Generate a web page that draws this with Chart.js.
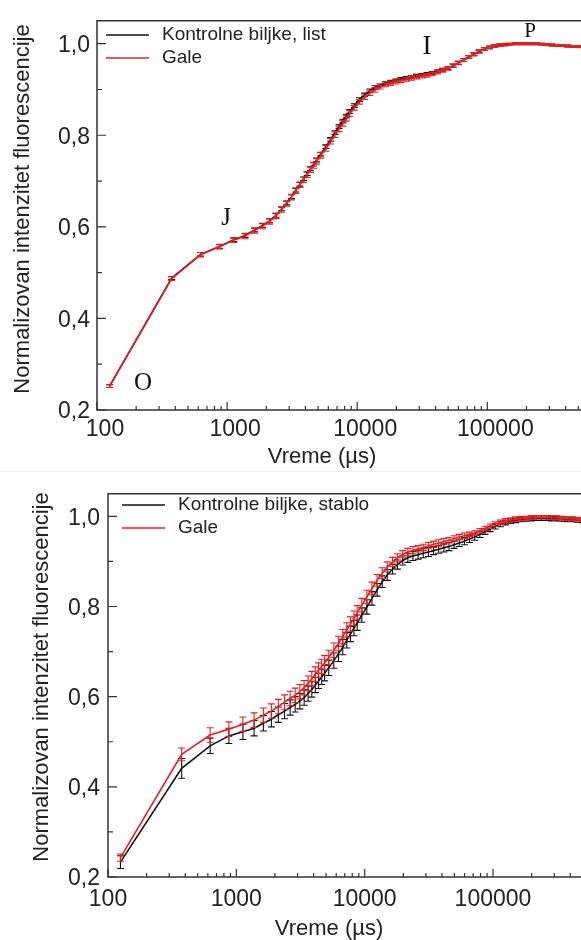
<!DOCTYPE html>
<html>
<head>
<meta charset="utf-8">
<script src="https://cdn.jsdelivr.net/npm/chart.js@4.4.1/dist/chart.umd.min.js"></script>
<style>
    html, body { margin: 0; padding: 0; background: #fff; overflow: hidden; }
    #topChart { position: absolute; left: 0; top: 0; }
    #bottomChart { position: absolute; left: 0; top: 472px; }
    .sep { position: absolute; left: 0; top: 471px; width: 581px; height: 1px; background: #eee; }
</style>
</head>
<body>
<canvas id="topChart" width="581" height="470"></canvas>
<div class="sep"></div>
<canvas id="bottomChart" width="581" height="468"></canvas>
<script>
// vreme (µs)
const times = [
    125, 375, 625, 875, 1125, 1375, 1625, 1875, 2125, 2375,
    2625, 2875, 3125, 3375, 3625, 3875, 4125, 4375, 4625, 4875,
    5250, 5750, 6250, 6750, 7250, 7750, 8250, 8750, 9500, 10400,
    11400, 12500, 13700, 15000, 16500, 18000, 19800, 21700, 23800, 26100,
    28600, 31400, 34400, 37700, 41400, 45400, 49800, 54600, 59900, 65700,
    72000, 79000, 86600, 95000, 104000, 114000, 125000, 137000, 150000, 165000,
    181000, 198000, 217000, 238000, 261000, 286000, 314000, 344000, 377000, 414000,
    454000, 498000, 546000
];

// gornji grafik - list
const listControl = [
    0.252, 0.488, 0.540, 0.557, 0.572, 0.581, 0.593, 0.603, 0.613, 0.625,
    0.639, 0.652, 0.666, 0.680, 0.693, 0.705, 0.716, 0.727, 0.737, 0.746,
    0.759, 0.775, 0.791, 0.806, 0.819, 0.831, 0.842, 0.852, 0.865, 0.878,
    0.888, 0.897, 0.904, 0.909, 0.914, 0.917, 0.920, 0.923, 0.925, 0.927,
    0.930, 0.932, 0.934, 0.936, 0.940, 0.943, 0.947, 0.952, 0.958, 0.964,
    0.971, 0.977, 0.983, 0.988, 0.992, 0.995, 0.997, 0.998, 0.999, 1.000,
    1.000, 1.000, 1.000, 1.000, 0.999, 0.998, 0.997, 0.996, 0.996, 0.995,
    0.994, 0.994, 0.993
];
const listGale = [
    0.252, 0.487, 0.539, 0.557, 0.571, 0.580, 0.592, 0.602, 0.612, 0.624,
    0.638, 0.651, 0.665, 0.679, 0.692, 0.703, 0.714, 0.725, 0.734, 0.743,
    0.756, 0.771, 0.787, 0.801, 0.814, 0.826, 0.837, 0.847, 0.860, 0.873,
    0.883, 0.892, 0.899, 0.905, 0.910, 0.913, 0.916, 0.919, 0.922, 0.924,
    0.927, 0.929, 0.931, 0.934, 0.938, 0.942, 0.946, 0.952, 0.958, 0.964,
    0.971, 0.977, 0.983, 0.988, 0.992, 0.995, 0.997, 0.998, 0.999, 1.000,
    1.000, 1.000, 1.000, 1.000, 0.999, 0.998, 0.997, 0.996, 0.996, 0.995,
    0.994, 0.994, 0.993
];
const listControlErr = [
    0.003, 0.003, 0.004, 0.004, 0.004, 0.004, 0.004, 0.004, 0.004, 0.004,
    0.004, 0.004, 0.004, 0.004, 0.004, 0.004, 0.004, 0.004, 0.004, 0.004,
    0.004, 0.004, 0.004, 0.004, 0.004, 0.004, 0.004, 0.004, 0.004, 0.004,
    0.004, 0.004, 0.004, 0.003, 0.003, 0.003, 0.003, 0.003, 0.003, 0.003,
    0.003, 0.003, 0.003, 0.003, 0.003, 0.003, 0.003, 0.003, 0.003, 0.003,
    0.003, 0.003, 0.003, 0.003, 0.003, 0.003, 0.002, 0.002, 0.002, 0.002,
    0.002, 0.002, 0.002, 0.002, 0.002, 0.002, 0.002, 0.002, 0.002, 0.002,
    0.002, 0.002, 0.002
];
const listGaleErr = [
    0.003, 0.004, 0.005, 0.005, 0.005, 0.006, 0.006, 0.006, 0.006, 0.006,
    0.006, 0.006, 0.006, 0.006, 0.006, 0.006, 0.006, 0.006, 0.006, 0.006,
    0.006, 0.006, 0.006, 0.006, 0.006, 0.006, 0.006, 0.006, 0.005, 0.005,
    0.005, 0.005, 0.005, 0.004, 0.004, 0.004, 0.004, 0.004, 0.004, 0.004,
    0.004, 0.004, 0.004, 0.004, 0.004, 0.004, 0.004, 0.004, 0.004, 0.003,
    0.003, 0.003, 0.003, 0.003, 0.003, 0.003, 0.003, 0.003, 0.002, 0.002,
    0.002, 0.002, 0.002, 0.002, 0.002, 0.002, 0.002, 0.002, 0.002, 0.002,
    0.002, 0.002, 0.002
];

// donji grafik - stablo
const stabloControl = [
    0.233, 0.441, 0.491, 0.513, 0.522, 0.530, 0.541, 0.550, 0.560, 0.568,
    0.576, 0.583, 0.590, 0.598, 0.607, 0.616, 0.626, 0.635, 0.644, 0.652,
    0.664, 0.680, 0.695, 0.710, 0.725, 0.739, 0.752, 0.764, 0.781, 0.799,
    0.818, 0.837, 0.855, 0.870, 0.883, 0.893, 0.902, 0.908, 0.912, 0.915,
    0.918, 0.921, 0.924, 0.927, 0.930, 0.933, 0.937, 0.941, 0.945, 0.950,
    0.954, 0.960, 0.966, 0.972, 0.978, 0.983, 0.986, 0.989, 0.991, 0.993,
    0.994, 0.995, 0.996, 0.996, 0.996, 0.995, 0.995, 0.994, 0.993, 0.993,
    0.992, 0.991, 0.990
];
const stabloGale = [
    0.243, 0.472, 0.515, 0.528, 0.539, 0.548, 0.559, 0.568, 0.578, 0.588,
    0.596, 0.603, 0.611, 0.620, 0.630, 0.640, 0.650, 0.659, 0.667, 0.675,
    0.687, 0.703, 0.718, 0.733, 0.748, 0.761, 0.774, 0.786, 0.803, 0.821,
    0.840, 0.858, 0.874, 0.888, 0.899, 0.908, 0.916, 0.921, 0.925, 0.928,
    0.931, 0.935, 0.938, 0.941, 0.944, 0.947, 0.951, 0.954, 0.957, 0.960,
    0.963, 0.968, 0.973, 0.978, 0.983, 0.987, 0.990, 0.992, 0.994, 0.995,
    0.996, 0.997, 0.998, 0.998, 0.998, 0.997, 0.997, 0.996, 0.995, 0.995,
    0.994, 0.993, 0.992
];
const stabloControlErr = [
    0.014, 0.022, 0.017, 0.017, 0.017, 0.017, 0.017, 0.017, 0.017, 0.017,
    0.017, 0.017, 0.017, 0.017, 0.017, 0.017, 0.017, 0.017, 0.017, 0.017,
    0.017, 0.017, 0.017, 0.017, 0.017, 0.017, 0.017, 0.017, 0.016, 0.016,
    0.015, 0.014, 0.013, 0.012, 0.011, 0.010, 0.010, 0.010, 0.010, 0.010,
    0.010, 0.010, 0.009, 0.009, 0.009, 0.009, 0.008, 0.008, 0.008, 0.008,
    0.007, 0.007, 0.006, 0.006, 0.006, 0.006, 0.005, 0.005, 0.005, 0.005,
    0.005, 0.005, 0.005, 0.005, 0.005, 0.005, 0.005, 0.005, 0.005, 0.005,
    0.005, 0.005, 0.005
];
const stabloGaleErr = [
    0.008, 0.014, 0.016, 0.016, 0.016, 0.016, 0.016, 0.016, 0.016, 0.016,
    0.016, 0.016, 0.016, 0.016, 0.016, 0.016, 0.016, 0.016, 0.016, 0.016,
    0.016, 0.016, 0.016, 0.016, 0.016, 0.016, 0.016, 0.016, 0.015, 0.015,
    0.014, 0.013, 0.012, 0.011, 0.010, 0.009, 0.008, 0.008, 0.008, 0.007,
    0.007, 0.007, 0.007, 0.007, 0.007, 0.006, 0.006, 0.006, 0.006, 0.005,
    0.005, 0.005, 0.005, 0.005, 0.005, 0.005, 0.005, 0.005, 0.005, 0.005,
    0.004, 0.004, 0.004, 0.004, 0.004, 0.004, 0.004, 0.004, 0.004, 0.004,
    0.004, 0.004, 0.004
];

const xMajor = [100, 1000, 10000, 100000];
const yMajor = [0.2, 0.4, 0.6, 0.8, 1.0];
const yMinor = [0.3, 0.5, 0.7, 0.9];

const RED = 'rgb(236, 28, 30)';
const BLACK = '#111';
const SANS = '"Liberation Sans", Arial, sans-serif';
const SERIF = '"Liberation Serif", "Times New Roman", serif';

// male podele na x osi (2..9 u svakoj dekadi)
const xMinor = [];
[100, 1000, 10000, 100000].forEach(d => {
    for (let k = 2; k <= 9; k++) xMinor.push(d * k);
});

function framePlugin(cfg) {
    return {
        id: 'frame',
        afterDatasetDraw(chart, args) {
            // error barovi
            const ds = chart.data.datasets[args.index];
            const a = chart.chartArea;
            const xs = chart.scales.x, ys = chart.scales.y;
            const c = chart.ctx;
            c.save();
            c.beginPath();
            c.rect(a.left, a.top, a.right - a.left, a.bottom - a.top);
            c.clip();
            c.strokeStyle = ds.borderColor;
            c.lineWidth = 1.1;
            c.beginPath();
            ds.data.forEach((p, i) => {
                const e = ds.err[i];
                const px = xs.getPixelForValue(p.x);
                const y1 = ys.getPixelForValue(p.y - e);
                const y2 = ys.getPixelForValue(p.y + e);
                c.moveTo(px, y1); c.lineTo(px, y2);
                c.moveTo(px - 3.5, y1); c.lineTo(px + 3.5, y1);
                c.moveTo(px - 3.5, y2); c.lineTo(px + 3.5, y2);
            });
            c.stroke();
            c.restore();
        },
        afterDraw(chart) {
            const a = chart.chartArea;
            const xs = chart.scales.x, ys = chart.scales.y;
            const c = chart.ctx;
            c.save();
            // okvir
            c.strokeStyle = '#333';
            c.lineWidth = 1.5;
            c.beginPath();
            c.moveTo(chart.width, a.top);
            c.lineTo(a.left, a.top);
            c.lineTo(a.left, a.bottom);
            c.lineTo(chart.width, a.bottom);
            c.stroke();
            // podele (ka unutra)
            c.lineWidth = 1.2;
            c.beginPath();
            xMajor.forEach(v => {
                const px = xs.getPixelForValue(v);
                c.moveTo(px, a.bottom); c.lineTo(px, a.bottom - 8);
            });
            xMinor.forEach(v => {
                const px = xs.getPixelForValue(v);
                if (px > chart.width) return;
                c.moveTo(px, a.bottom); c.lineTo(px, a.bottom - 4);
            });
            yMajor.forEach(v => {
                const py = ys.getPixelForValue(v);
                c.moveTo(a.left, py); c.lineTo(a.left + 9, py);
            });
            yMinor.forEach(v => {
                const py = ys.getPixelForValue(v);
                c.moveTo(a.left, py); c.lineTo(a.left + 5, py);
            });
            c.stroke();

            // naslovi osa
            c.fillStyle = '#222';
            c.font = '22px ' + SANS;
            c.textAlign = 'center';
            c.textBaseline = 'middle';
            c.fillText('Vreme (\u00B5s)', cfg.xTitle[0], cfg.xTitle[1]);
            c.save();
            c.translate(cfg.yTitle[0], cfg.yTitle[1]);
            c.rotate(-Math.PI / 2);
            c.fillText('Normalizovan intenzitet fluorescencije', 0, 0);
            c.restore();

            // legenda
            c.font = '19px ' + SANS;
            c.textAlign = 'left';
            cfg.legend.forEach(item => {
                c.strokeStyle = item.color;
                c.lineWidth = 1.5;
                c.beginPath();
                c.moveTo(cfg.legendX, item.y);
                c.lineTo(cfg.legendX + 43, item.y);
                c.stroke();
                c.fillStyle = '#222';
                c.fillText(item.text, cfg.legendX + 56, item.y);
            });

            // oznake O, J, I, P
            c.fillStyle = '#111';
            c.textAlign = 'center';
            (cfg.marks || []).forEach(m => {
                c.font = m.size + 'px ' + SERIF;
                c.fillText(m.text, m.x, m.y);
            });
            c.restore();
        }
    };
}

function buildChart(canvasId, series, cfg) {
    const ctx = document.getElementById(canvasId).getContext('2d');
    return new Chart(ctx, {
        type: 'scatter',
        data: {
            datasets: series.map(s => ({
                label: s.label,
                data: times.map((t, i) => ({ x: t, y: s.values[i] })),
                err: s.err,
                showLine: true,
                borderColor: s.color,
                backgroundColor: s.color,
                borderWidth: 1.6,
                pointRadius: 0,
                order: s.order
            }))
        },
        options: {
            responsive: false,
            animation: false,
            layout: { padding: { top: cfg.top, left: 0, right: 0, bottom: 0 } },
            plugins: {
                legend: { display: false },
                tooltip: { enabled: false }
            },
            scales: {
                x: {
                    type: 'logarithmic',
                    min: 100,
                    max: cfg.xMax,
                    afterBuildTicks: s => { s.ticks = xMajor.map(v => ({ value: v })); },
                    afterFit: s => { s.height = cfg.xAxisH; },
                    grid: { display: false, drawTicks: false },
                    border: { display: false },
                    ticks: {
                        autoSkip: false,
                        maxRotation: 0,
                        padding: cfg.xPad,
                        labelOffset: cfg.xLabelOffset,
                        color: '#222',
                        font: { family: SANS, size: 23 },
                        callback: v => String(v)
                    }
                },
                y: {
                    min: 0.2,
                    max: 1.05,
                    afterBuildTicks: s => { s.ticks = yMajor.map(v => ({ value: v })); },
                    afterFit: s => { s.width = cfg.left; },
                    grid: { display: false, drawTicks: false },
                    border: { display: false },
                    ticks: {
                        padding: cfg.yPad,
                        labelOffset: 2,
                        color: '#222',
                        font: { family: SANS, size: 23 },
                        callback: v => v.toFixed(1).replace('.', ',')
                    }
                }
            }
        },
        plugins: [framePlugin(cfg)]
    });
}

document.addEventListener('DOMContentLoaded', function() {
    buildChart('topChart', [
        { label: 'Kontrolne biljke, list', values: listControl, err: listControlErr, color: BLACK, order: 1 },
        { label: 'Gale', values: listGale, err: listGaleErr, color: RED, order: 0 }
    ], {
        top: 15, left: 97, xAxisH: 60, xMax: 525000, xPad: 6, yPad: 7, xLabelOffset: 8,
        xTitle: [322, 457], yTitle: [23, 209],
        legendX: 106,
        legend: [
            { text: 'Kontrolne biljke, list', color: BLACK, y: 35 },
            { text: 'Gale', color: RED, y: 58 }
        ],
        marks: [
            { text: 'O', x: 143, y: 383, size: 25 },
            { text: 'J', x: 226, y: 218, size: 25 },
            { text: 'I', x: 427, y: 47, size: 27 },
            { text: 'P', x: 530, y: 31, size: 21 }
        ]
    });

    buildChart('bottomChart', [
        { label: 'Kontrolne biljke, stablo', values: stabloControl, err: stabloControlErr, color: BLACK, order: 1 },
        { label: 'Gale', values: stabloGale, err: stabloGaleErr, color: RED, order: 0 }
    ], {
        top: 14, left: 108, xAxisH: 63, xMax: 485000, xPad: 9, yPad: 8, xLabelOffset: 0,
        xTitle: [329, 457], yTitle: [42, 205],
        legendX: 122,
        legend: [
            { text: 'Kontrolne biljke, stablo', color: BLACK, y: 33 },
            { text: 'Gale', color: RED, y: 56 }
        ]
    });
});
</script>
</body>
</html>
